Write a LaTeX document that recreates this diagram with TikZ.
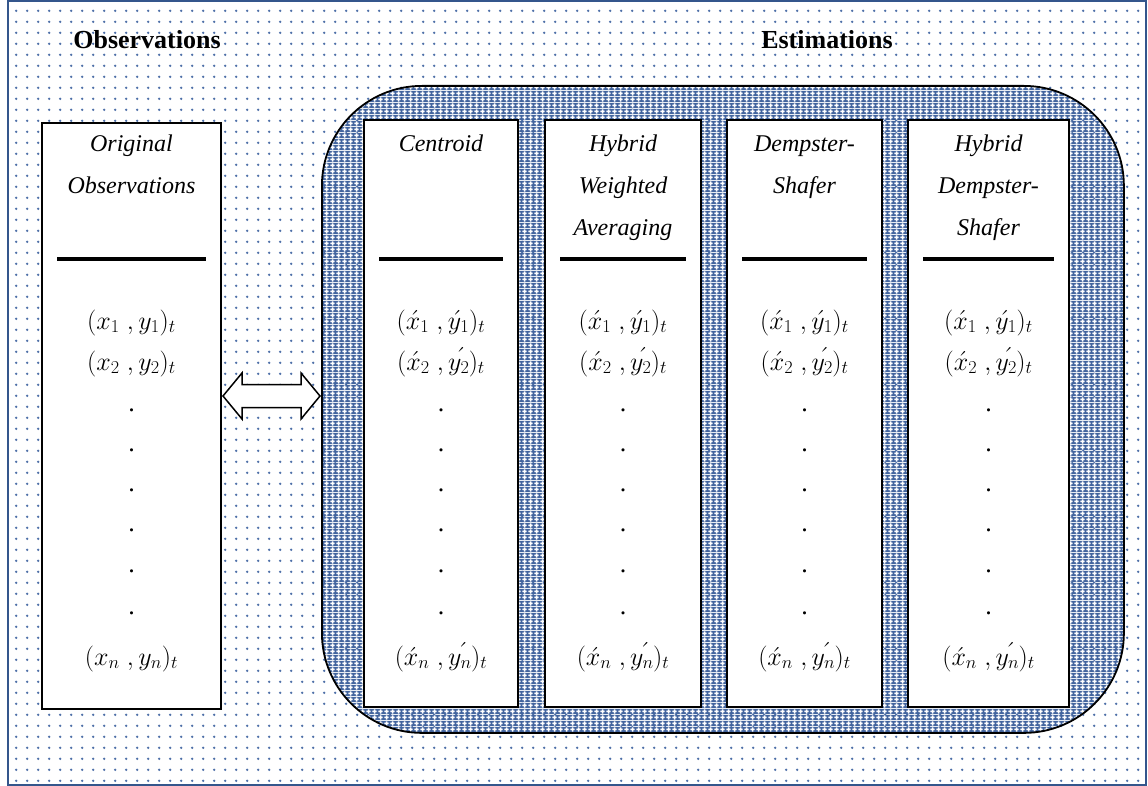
\RequirePackage{fix-cm}
\documentclass[tikz,border=0pt]{standalone}
\usepackage{fontspec}
\setmainfont{Liberation Serif}
\usetikzlibrary{patterns,calc}

\definecolor{framecol}{RGB}{52,86,140}
\definecolor{dotcol}{RGB}{78,112,168}
\definecolor{meshcol}{RGB}{66,100,158}

% sparse blue dots for the page background
\pgfdeclarepatternformonly{bgdots}{\pgfqpoint{0pt}{0pt}}{\pgfqpoint{10.7pt}{10.7pt}}{\pgfqpoint{10.7pt}{10.7pt}}{%
  \pgfpathcircle{\pgfqpoint{5.35pt}{5.35pt}}{1.35pt}\pgfusepath{fill}}

% blue mesh with white crosses for the estimation panel
\pgfdeclarepatterninherentlycolored{bluemesh}{\pgfqpoint{0pt}{0pt}}{\pgfqpoint{6pt}{6pt}}{\pgfqpoint{6pt}{6pt}}{%
  \pgfsetfillcolor{meshcol}%
  \pgfpathrectangle{\pgfqpoint{0pt}{0pt}}{\pgfqpoint{6pt}{6pt}}\pgfusepath{fill}%
  \pgfsetfillcolor{white}%
  \pgfpathrectangle{\pgfqpoint{2.2pt}{0.5pt}}{\pgfqpoint{1.6pt}{5pt}}%
  \pgfpathrectangle{\pgfqpoint{0.5pt}{2.2pt}}{\pgfqpoint{5pt}{1.6pt}}%
  \pgfpathcircle{\pgfqpoint{3pt}{3pt}}{1.4pt}%
  \pgfusepath{fill}}

% acute mark set after a subscripted letter
\newcommand{\postacute}{\mkern-12mu\acute{\hphantom{n}\vphantom{t}}\mkern1mu}

\tikzset{
  headtext/.style={font=\fontsize{26}{30}\selectfont\bfseries, anchor=base, inner sep=1pt},
  titletext/.style={font=\fontsize{24}{30}\selectfont\itshape, anchor=base, inner sep=1pt},
  pairtext/.style={font=\fontsize{26}{30}\selectfont, anchor=base, inner sep=1pt},
  colbox/.style={draw, line width=2pt, fill=white, anchor=north west, inner sep=0pt},
  rulestroke/.style={line width=4pt},
}

\begin{document}
\begin{tikzpicture}[x=1pt,y=-1pt]
\useasboundingbox (0,0) rectangle (1148,786);

% page background and frame
\path[pattern=bgdots, pattern color=dotcol] (8,2) rectangle (1145,784);
\draw[framecol, line width=2pt] (7.5,1.5) rectangle (1145.5,784.5);

% headings
\node[headtext] (tobs) at (147,49) {Observations};
\node[headtext] (test) at (827,49) {Estimations};

% estimation panel
\node[draw, line width=1.8pt, rounded corners=100pt, pattern=bluemesh,
      minimum width=802pt, minimum height=647pt, inner sep=0pt, anchor=north west] (est) at (321,85) {};

% observation column
\node[colbox, minimum width=179pt, minimum height=586pt] (obs) at (41,122) {};
\node[titletext] (obs-h1) at (obs.north |- 0,152) {Original};
\node[titletext] (obs-h2) at (obs.north |- 0,194) {Observations};
\draw[rulestroke] ($(obs.west |- 0,259)+(16,0)$) -- ($(obs.east |- 0,259)+(-16,0)$);
\node[pairtext] (obs-r1) at (obs.north |- 0,329) {$(x_1\;,y_1)_t$};
\node[pairtext] (obs-r2) at (obs.north |- 0,370) {$(x_2\;,y_2)_t$};
\foreach \k/\yy in {1/411,2/451,3/491,4/531,5/572,6/614}
  \node[pairtext] (obs-d\k) at (obs.north |- 0,\yy) {.};
\node[pairtext] (obs-rn) at (obs.north |- 0,665) {$(x_n\;,y_n)_t$};

% estimation columns
\node[colbox, minimum width=154pt, minimum height=587pt] (c1) at (363,119) {};
\node[colbox, minimum width=156pt, minimum height=587pt] (c2) at (544,119) {};
\node[colbox, minimum width=155pt, minimum height=587pt] (c3) at (726,119) {};
\node[colbox, minimum width=161pt, minimum height=587pt] (c4) at (907,119) {};

\node[titletext] (c1-h1) at (c1.north |- 0,152) {Centroid};
\node[titletext] (c2-h1) at (c2.north |- 0,152) {Hybrid};
\node[titletext] (c2-h2) at (c2.north |- 0,194) {Weighted};
\node[titletext] (c2-h3) at (c2.north |- 0,236) {Averaging};
\node[titletext] (c3-h1) at (c3.north |- 0,152) {Dempster-};
\node[titletext] (c3-h2) at (c3.north |- 0,194) {Shafer};
\node[titletext] (c4-h1) at (c4.north |- 0,152) {Hybrid};
\node[titletext] (c4-h2) at (c4.north |- 0,194) {Dempster-};
\node[titletext] (c4-h3) at (c4.north |- 0,236) {Shafer};

\foreach \c in {c1,c2,c3,c4}{
  \draw[rulestroke] ($(\c.west |- 0,259)+(16,0)$) -- ($(\c.east |- 0,259)+(-16,0)$);
  \node[pairtext] (\c-r1) at (\c.north |- 0,329) {$(\acute{x}_1\;,\acute{y}_1)_t$};
  \node[pairtext] (\c-r2) at (\c.north |- 0,370) {$(\acute{x}_2\;,y_2\postacute)_t$};
  \foreach \k/\yy in {1/411,2/451,3/491,4/531,5/572,6/614}
    \node[pairtext] (\c-d\k) at (\c.north |- 0,\yy) {.};
  \node[pairtext] (\c-rn) at (\c.north |- 0,665) {$(\acute{x}_n\;,y_n\postacute)_t$};
}

% double arrow linking observations and estimations
\coordinate (aL) at ($(obs.east |- 0,396)+(1,0)$);
\coordinate (aR) at ($(est.west |- 0,396)+(-1,0)$);
\draw[line width=1.5pt, fill=white, line join=miter]
  (aL) -- ($(aL)+(19,-23)$) -- ($(aL)+(19,-11.5)$) -- ($(aR)+(-19,-11.5)$) -- ($(aR)+(-19,-23)$)
  -- (aR) -- ($(aR)+(-19,23)$) -- ($(aR)+(-19,11.5)$) -- ($(aL)+(19,11.5)$) -- ($(aL)+(19,23)$) -- cycle;
\end{tikzpicture}
\end{document}
